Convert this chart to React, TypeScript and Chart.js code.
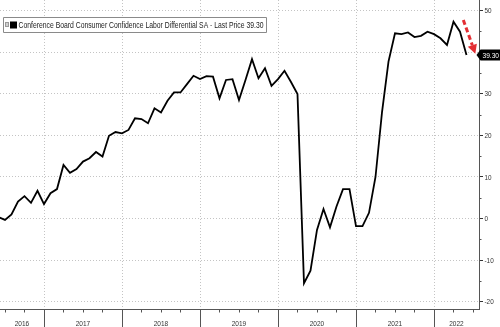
import React, { useEffect, useRef } from 'react';
import { Chart, registerables } from 'chart.js';

Chart.register(...registerables);

// Month-end observations, first one is May 2016
const START_YEAR = 2016;
const START_MONTH = 5;
const v2016 = [0.4, -0.3, 1.0, 4.1, 5.4, 3.8, 6.7, 3.5];
const v2017 = [6.1, 7.1, 12.9, 11.0, 11.9, 13.7, 14.5, 16.0, 14.9, 19.9, 20.8, 20.5];
const v2018 = [21.3, 24.1, 23.9, 22.9, 26.5, 25.5, 28.3, 30.3, 30.3, 32.3, 34.3, 33.5];
const v2019 = [34.2, 34.1, 28.9, 33.3, 33.5, 28.5, 33.3, 38.3, 33.7, 36.1, 31.9, 33.5];
const v2020 = [35.5, 32.8, 29.9, -15.5, -12.5, -2.7, 2.3, -2.1, 2.9, 7.1, 7.1, -1.8];
const v2021 = [-1.8, 1.4, 10.0, 25.5, 37.7, 44.5, 44.3, 44.7, 43.6, 43.9, 44.9, 44.3];
const v2022 = [43.3, 41.7, 47.3, 44.9, 39.3];
const yearSeries = [v2016, v2017, v2018, v2019, v2020, v2021, v2022];

const yearLabels = ['2016', '2017', '2018', '2019', '2020', '2021', '2022'];
const yTicks = [-20, -10, 0, 10, 20, 30, 40, 50];
const yMinorTicks = [-15, -5, 5, 15, 25, 35, 45];
const LAST_PRICE = 39.3;
const LAST_PRICE_LABEL = '39.30';
const LEGEND_TEXT = 'Conference Board Consumer Confidence Labor Differential SA - Last Price 39.30';

const X_MIN = 2016.436;
const X_MAX = 2022.577;
const Y_MIN = -21.7;
const Y_MAX = 52.5;

// arrow annotation (data coords)
const ARROW_START = { x: 2022.376, y: 47.7 };
const ARROW_TIP = { x: 2022.53, y: 39.6 };

function buildPoints() {
  const pts: { x: number; y: number }[] = [];
  yearSeries.forEach((arr, yi) => {
    const yr = START_YEAR + yi;
    const firstMonth = yi === 0 ? START_MONTH : 1;
    arr.forEach((v, i) => {
      const m = firstMonth + i; // month-end
      pts.push({ x: yr + m / 12, y: v });
    });
  });
  return pts;
}

const FONT = '"Liberation Sans", Arial, sans-serif';

function squeezeText(ctx: CanvasRenderingContext2D, t: string, x: number, y: number, maxW: number) {
  ctx.fillText(t, x, y, maxW);
}

const decorPlugin = {
  id: 'decor',
  beforeDatasetsDraw(chart: any) {
    const { ctx, chartArea, scales } = chart;
    const xs = scales.x;
    ctx.save();
    ctx.strokeStyle = '#c4c4c4';
    ctx.lineWidth = 1;
    ctx.setLineDash([1, 2]);
    for (let yr = 2017; yr <= 2022; yr++) {
      const px = Math.round(xs.getPixelForValue(yr)) + 0.5;
      ctx.beginPath();
      ctx.moveTo(px, chartArea.top);
      ctx.lineTo(px, chartArea.bottom);
      ctx.stroke();
    }
    ctx.restore();
  },
  afterDraw(chart: any) {
    const { ctx, chartArea, scales } = chart;
    const xs = scales.x;
    const ys = scales.y;
    const H = chart.height;
    ctx.save();
    ctx.setLineDash([]);
    // x axis line
    const by = Math.round(chartArea.bottom) + 0.5;
    ctx.strokeStyle = '#555';
    ctx.lineWidth = 1;
    ctx.beginPath();
    ctx.moveTo(chartArea.left, by);
    ctx.lineTo(chartArea.right, by);
    ctx.stroke();
    // year ticks (long) and quarter ticks
    for (let yr = 2016; yr <= 2023; yr++) {
      if (yr > X_MIN && yr < X_MAX) {
        const px = Math.round(xs.getPixelForValue(yr)) + 0.5;
        ctx.beginPath();
        ctx.moveTo(px, by);
        ctx.lineTo(px, H);
        ctx.stroke();
      }
      for (let q = 1; q <= 3; q++) {
        const v = yr + q / 4;
        if (v > X_MIN && v < X_MAX) {
          const px = Math.round(xs.getPixelForValue(v)) + 0.5;
          ctx.beginPath();
          ctx.moveTo(px, by);
          ctx.lineTo(px, by + 3);
          ctx.stroke();
        }
      }
    }
    // year labels
    ctx.fillStyle = '#333';
    ctx.font = `7.5px ${FONT}`;
    ctx.textAlign = 'center';
    ctx.textBaseline = 'middle';
    yearLabels.forEach((lab, i) => {
      const yr = 2016 + i;
      const l = Math.max(X_MIN, yr);
      const r = Math.min(X_MAX, yr + 1);
      const cx = xs.getPixelForValue((l + r) / 2);
      squeezeText(ctx, lab, cx, by + 14, 14.5);
    });
    // y minor ticks
    const ax = Math.round(chartArea.right) + 0.5;
    ctx.strokeStyle = '#555';
    yMinorTicks.forEach((v) => {
      const py = Math.round(ys.getPixelForValue(v)) + 0.5;
      ctx.beginPath();
      ctx.moveTo(ax, py);
      ctx.lineTo(ax + 2, py);
      ctx.stroke();
    });
    // y labels
    ctx.fillStyle = '#333';
    ctx.font = `7.5px ${FONT}`;
    ctx.textAlign = 'left';
    ctx.textBaseline = 'middle';
    yTicks.forEach((v) => {
      const py = ys.getPixelForValue(v);
      const t = String(v);
      const w = ctx.measureText(t).width * 0.85;
      squeezeText(ctx, t, ax + 5, py + 0.5, w);
    });
    // last price tag
    const ty = ys.getPixelForValue(LAST_PRICE);
    ctx.fillStyle = '#000';
    ctx.beginPath();
    ctx.moveTo(ax - 3, ty);
    ctx.lineTo(ax + 1, ty - 5.5);
    ctx.lineTo(chart.width, ty - 5.5);
    ctx.lineTo(chart.width, ty + 5.5);
    ctx.lineTo(ax + 1, ty + 5.5);
    ctx.closePath();
    ctx.fill();
    ctx.fillStyle = '#fff';
    ctx.font = `8px ${FONT}`;
    ctx.textAlign = 'left';
    squeezeText(ctx, LAST_PRICE_LABEL, ax + 3, ty + 0.5, 16.5);

    // red dashed arrow
    const sx = xs.getPixelForValue(ARROW_START.x);
    const sy = ys.getPixelForValue(ARROW_START.y);
    const tx = xs.getPixelForValue(ARROW_TIP.x);
    const tyy = ys.getPixelForValue(ARROW_TIP.y);
    const dx = tx - sx;
    const dy = tyy - sy;
    const len = Math.hypot(dx, dy);
    const ux = dx / len;
    const uy = dy / len;
    const headLen = 9;
    const half = 4.8;
    const bx = tx - ux * headLen;
    const byy = tyy - uy * headLen;
    ctx.strokeStyle = 'rgba(226, 35, 40, 0.95)';
    ctx.fillStyle = 'rgba(226, 35, 40, 0.95)';
    ctx.lineWidth = 3;
    ctx.setLineDash([5, 3]);
    ctx.beginPath();
    ctx.moveTo(sx, sy);
    ctx.lineTo(bx, byy);
    ctx.stroke();
    ctx.setLineDash([]);
    ctx.beginPath();
    ctx.moveTo(tx, tyy);
    ctx.lineTo(bx - uy * half, byy + ux * half);
    ctx.lineTo(bx + uy * half, byy - ux * half);
    ctx.closePath();
    ctx.fill();

    // legend box
    ctx.lineWidth = 1;
    ctx.fillStyle = '#fff';
    ctx.strokeStyle = '#8a8a8a';
    ctx.beginPath();
    ctx.rect(3.5, 17.5, 263, 15);
    ctx.fill();
    ctx.stroke();
    ctx.fillStyle = '#d0d0d0';
    ctx.fillRect(5, 22.5, 3.5, 4.5);
    ctx.strokeStyle = '#999';
    ctx.strokeRect(5.5, 22.5, 3, 4);
    ctx.fillStyle = '#000';
    ctx.fillRect(10, 21.5, 7, 7);
    ctx.fillStyle = '#222';
    ctx.font = `9.5px ${FONT}`;
    ctx.textAlign = 'left';
    ctx.textBaseline = 'middle';
    squeezeText(ctx, LEGEND_TEXT, 18.5, 25.5, 245);
    ctx.restore();
  },
};

export default function App() {
  const ref = useRef<HTMLCanvasElement | null>(null);
  useEffect(() => {
    if (!ref.current) return;
    const chart = new Chart(ref.current, {
      type: 'line',
      data: {
        datasets: [
          {
            data: buildPoints(),
            borderColor: '#000',
            borderWidth: 1.8,
            pointRadius: 0,
            tension: 0,
            fill: false,
          },
        ],
      },
      options: {
        responsive: false,
        animation: false,
        events: [],
        layout: { padding: { left: 0, top: 0, right: 0, bottom: 18 } },
        plugins: { legend: { display: false }, tooltip: { enabled: false } },
        scales: {
          x: {
            type: 'linear',
            min: X_MIN,
            max: X_MAX,
            display: false,
          },
          y: {
            position: 'right',
            min: Y_MIN,
            max: Y_MAX,
            afterBuildTicks: (s: any) => {
              s.ticks = yTicks.map((v) => ({ value: v }));
            },
            afterFit: (s: any) => {
              s.width = 21;
            },
            ticks: { display: false },
            grid: {
              color: '#c4c4c4',
              lineWidth: 1,
              drawTicks: true,
              tickLength: 4,
              tickColor: '#333',
              tickWidth: 1,
            },
            border: { display: true, color: '#555', width: 1, dash: [1, 2] },
          },
        },
      },
      plugins: [decorPlugin],
    });
    return () => chart.destroy();
  }, []);
  return (
    <div style={{ position: 'fixed', left: 0, top: 0, width: 500, height: 327, background: '#fff' }}>
      <canvas ref={ref} width={500} height={327} style={{ display: 'block' }} />
    </div>
  );
}
